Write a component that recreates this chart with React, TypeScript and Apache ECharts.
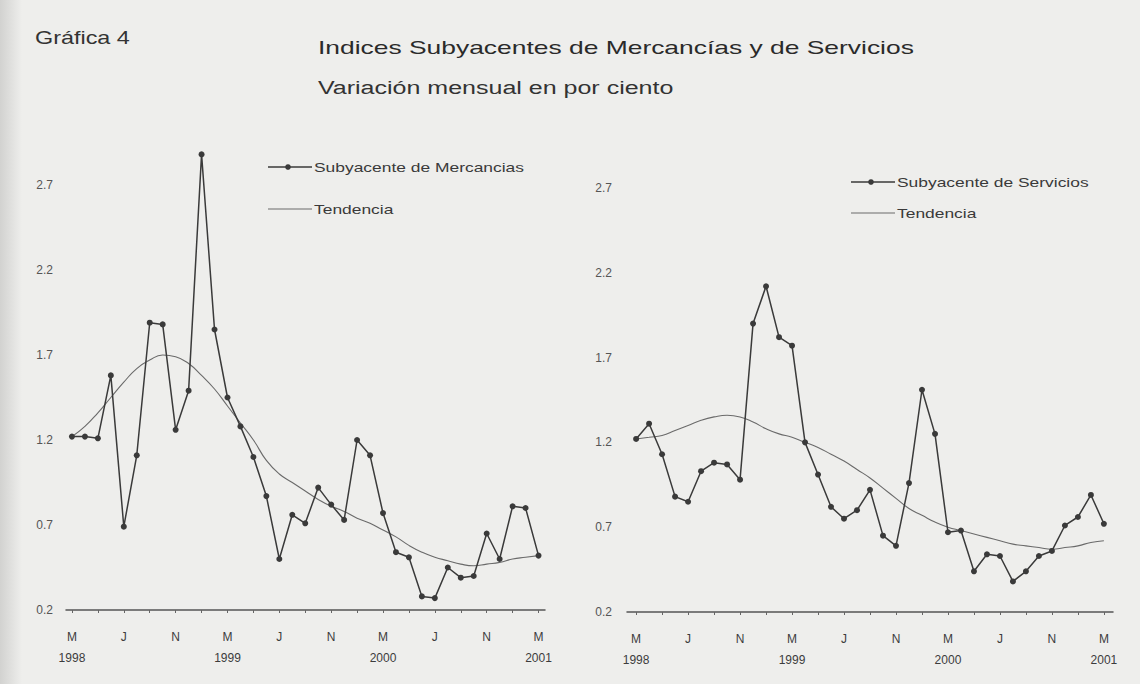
import React, { useEffect, useRef } from "react";
import * as echarts from "echarts";

// Month index 0 = March 1998 ... 36 = March 2001
const xLabelPositions = [0, 4, 8, 12, 16, 20, 24, 28, 32, 36];
const xLabelTexts = ["M\n1998", "J", "N", "M\n1999", "J", "N", "M\n2000", "J", "N", "M\n2001"];
const xTickPositions = [0, 2, 4, 6, 8, 10, 12, 14, 16, 18, 20, 22, 24, 26, 28, 30, 32, 34, 36];
const yTickValues = [0.2, 0.7, 1.2, 1.7, 2.2, 2.7];

const mercancias = [
  1.22, 1.22, 1.21, 1.58, 0.69, 1.11, 1.89, 1.88, 1.26, 1.49, 2.88, 1.85, 1.45,
  1.28, 1.1, 0.87, 0.5, 0.76, 0.71, 0.92, 0.82, 0.73, 1.2, 1.11, 0.77, 0.54,
  0.51, 0.28, 0.27, 0.45, 0.39, 0.4, 0.65, 0.5, 0.81, 0.8, 0.52,
];
const tendenciaMercancias = [
  1.22, 1.28, 1.36, 1.45, 1.54, 1.62, 1.67, 1.7, 1.69, 1.65, 1.58, 1.5, 1.4,
  1.3, 1.2, 1.08, 1.0, 0.95, 0.9, 0.85, 0.81, 0.78, 0.74, 0.71, 0.67, 0.63,
  0.58, 0.54, 0.51, 0.49, 0.47, 0.46, 0.47, 0.48, 0.5, 0.51, 0.52,
];
const servicios = [
  1.22, 1.31, 1.13, 0.88, 0.85, 1.03, 1.08, 1.07, 0.98, 1.9, 2.12, 1.82, 1.77,
  1.2, 1.01, 0.82, 0.75, 0.8, 0.92, 0.65, 0.59, 0.96, 1.51, 1.25, 0.67, 0.68,
  0.44, 0.54, 0.53, 0.38, 0.44, 0.53, 0.56, 0.71, 0.76, 0.89, 0.72,
];
const tendenciaServicios = [
  1.22, 1.23, 1.24, 1.27, 1.3, 1.33, 1.35, 1.36, 1.35, 1.32, 1.28, 1.25, 1.23,
  1.2, 1.17, 1.13, 1.09, 1.04, 0.99, 0.93, 0.87, 0.81, 0.77, 0.73, 0.7, 0.68,
  0.66, 0.64, 0.62, 0.6, 0.59, 0.58, 0.57, 0.58, 0.59, 0.61, 0.62,
];

const FONT = "'Liberation Sans', Arial, sans-serif";
const INK = "#3a3a3a";

const pairs = (arr: number[]) => arr.map((v, i) => [i, v]);

function xAxisFor(gridIndex: number, min: number, max: number) {
  return {
    type: "value",
    gridIndex,
    min,
    max,
    splitLine: { show: false },
    axisLine: { show: true, onZero: false, lineStyle: { color: "#555", width: 1.5 } },
    axisTick: {
      show: true,
      customValues: xTickPositions,
      length: 3,
      lineStyle: { color: "#666", width: 1 },
    },
    axisLabel: {
      customValues: xLabelPositions,
      margin: 16,
      fontSize: 12,
      lineHeight: 21,
      fontFamily: FONT,
      color: "#3c3c3c",
      formatter: (v: number) => {
        const k = xLabelPositions.indexOf(Math.round(v));
        return k >= 0 ? xLabelTexts[k] : "";
      },
    },
  };
}

function yAxisFor(gridIndex: number, margin: number) {
  return {
    type: "value",
    gridIndex,
    min: 0.2,
    max: 3.0,
    splitLine: { show: false },
    axisLine: { show: false },
    axisTick: { show: false },
    axisLabel: {
      customValues: yTickValues,
      margin,
      fontSize: 12,
      fontFamily: FONT,
      color: "#555",
      formatter: (v: number) => v.toFixed(1),
    },
  };
}

function stretchedText(text: string, x: number, y: number, size: number, scaleX: number, color = "#333") {
  return {
    type: "text",
    x,
    y,
    scaleX,
    style: {
      text,
      fontSize: size,
      fontFamily: FONT,
      fill: color,
      align: "left",
      verticalAlign: "middle",
    },
  };
}

function legendItem(x: number, y: number, label: string, withMarker: boolean, lineColor: string) {
  const items: any[] = [
    {
      type: "line",
      shape: { x1: x, y1: y, x2: x + 44, y2: y },
      style: { stroke: lineColor, lineWidth: withMarker ? 1.5 : 1 },
    },
  ];
  if (withMarker) {
    items.push({ type: "circle", shape: { cx: x + 20, cy: y, r: 2.8 }, style: { fill: INK } });
  }
  items.push(stretchedText(label, x + 46, y, 13, 1.34, "#3a3a3a"));
  return items;
}

export default function App() {
  const ref = useRef<HTMLDivElement>(null);

  useEffect(() => {
    document.body.style.margin = "0";
    if (!ref.current) return;
    const chart = echarts.init(ref.current, null, { renderer: "svg" });

    const lineSeries = (name: string, data: number[], gi: number) => ({
      name,
      type: "line",
      xAxisIndex: gi,
      yAxisIndex: gi,
      data: pairs(data),
      symbol: "circle",
      symbolSize: 6,
      itemStyle: { color: INK },
      lineStyle: { color: INK, width: 1.5 },
      z: 3,
    });
    const trendSeries = (name: string, data: number[], gi: number) => ({
      name,
      type: "line",
      xAxisIndex: gi,
      yAxisIndex: gi,
      data: pairs(data),
      smooth: true,
      showSymbol: false,
      symbol: "none",
      lineStyle: { color: "#6a6a6a", width: 1.1 },
      z: 2,
    });

    chart.setOption({
      animation: false,
      backgroundColor: "#eeeeec",
      grid: [
        { left: 66, top: 134, width: 479, height: 476 },
        { left: 627, top: 137, width: 486, height: 475 },
      ],
      xAxis: [xAxisFor(0, -0.46, 36.5), xAxisFor(1, -0.7, 36.7)],
      yAxis: [yAxisFor(0, 13), yAxisFor(1, 15)],
      series: [
        lineSeries("Subyacente de Mercancias", mercancias, 0),
        trendSeries("Tendencia", tendenciaMercancias, 0),
        lineSeries("Subyacente de Servicios", servicios, 1),
        trendSeries("Tendencia ", tendenciaServicios, 1),
      ],
      graphic: [
        {
          type: "rect",
          shape: { x: 0, y: 0, width: 22, height: 684 },
          style: {
            fill: new echarts.graphic.LinearGradient(0, 0, 1, 0, [
              { offset: 0, color: "#d2d2d0" },
              { offset: 1, color: "#eeeeec" },
            ]),
          },
          silent: true,
          z: -1,
        },
        stretchedText("Gráfica 4", 35, 38, 18, 1.3, "#333"),
        stretchedText("Indices Subyacentes de Mercancías y de Servicios", 318, 47, 19, 1.39, "#2a2a2a"),
        stretchedText("Variación mensual en por ciento", 318, 88, 18, 1.39, "#333"),
        ...legendItem(268, 167, "Subyacente de Mercancias", true, INK),
        ...legendItem(268, 209, "Tendencia", false, "#6a6a6a"),
        ...legendItem(851, 182, "Subyacente de Servicios", true, INK),
        ...legendItem(851, 213, "Tendencia", false, "#6a6a6a"),
      ],
    });

    return () => chart.dispose();
  }, []);

  return <div ref={ref} style={{ width: 1140, height: 684 }} />;
}
